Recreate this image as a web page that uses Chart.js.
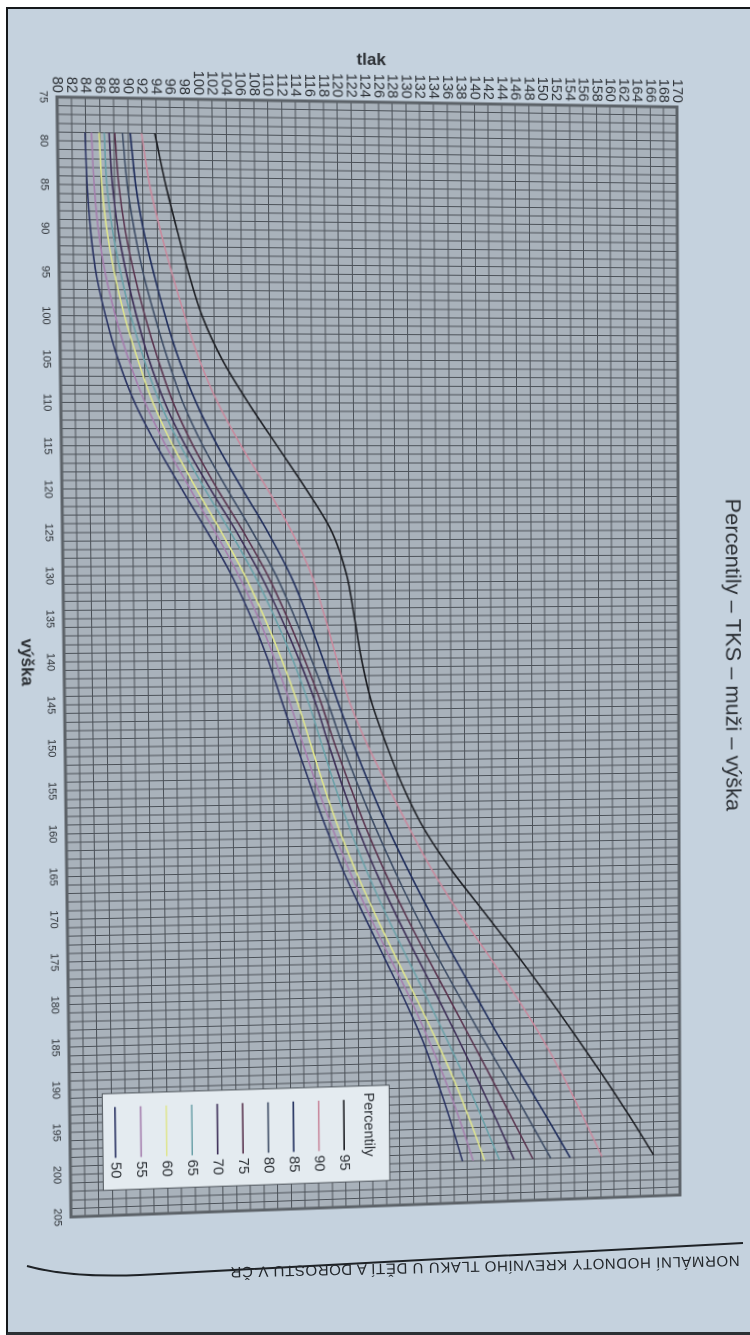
<!DOCTYPE html>
<html>
<head>
<meta charset="utf-8">
<script src="https://cdn.jsdelivr.net/npm/chart.js"></script>
<style>
  body { margin: 0; width: 750px; height: 1335px; overflow: hidden; position: relative; background: #fff;
         font-family: "Liberation Sans", Arial, sans-serif; }
  #page { position: absolute; left: 6px; top: 7px; width: 744px; height: 1323px; background: #c5d2de;
          border-left: 2px solid #15181b; border-top: 2px solid #15181b; border-bottom: 3px solid #2c3034; }
  #sheet { position: absolute; left: 0; top: 0; width: 1340px; height: 770px; transform-origin: 0 0; }
  #rule { position: absolute; left: 0; top: 0; }
  #footer { position: absolute; left: 0; top: 0; white-space: nowrap; font-size: 15px; letter-spacing: 0.6px;
            color: #23272b; transform-origin: 50% 50%; }
</style>
</head>
<body>
<div id="page"></div>
<div id="sheet"><canvas id="chart" width="1340" height="770"></canvas></div>
<svg id="rule" width="750" height="1335"><path d="M 27 1266 Q 70 1278 140 1275 L 743 1243" fill="none" stroke="#1e2226" stroke-width="2"/></svg>
<div id="footer">NORMÁLNÍ HODNOTY KREVNÍHO TLAKU U DĚTÍ A DOROSTU V ČR</div>
<script>
// výška (cm)
var heights = [79, 85, 90, 95, 100, 105, 110, 115, 120, 125, 130, 135, 140, 145, 150, 155, 160, 165, 170, 175, 180, 185, 190, 195, 200];

// tlak for each percentile
var p95 = [93.8, 95.3, 96.8, 98.4, 100.3, 103.1, 106.8, 110.9, 115.0, 118.7, 120.8, 121.9, 122.9, 124.3, 126.4, 128.8, 131.8, 135.8, 140.5, 145.2, 149.7, 154.0, 158.2, 162.2, 166.0];
var p90 = [91.9, 93.0, 94.4, 96.0, 97.8, 99.8, 102.4, 105.7, 109.4, 112.9, 115.7, 117.6, 119.3, 121.1, 123.6, 126.6, 129.7, 133.0, 136.8, 141.0, 145.1, 148.9, 152.3, 155.3, 158.2];
var p85 = [90.3, 91.0, 92.0, 93.4, 95.0, 96.9, 99.3, 102.3, 105.8, 109.4, 112.6, 115.1, 117.3, 119.4, 121.6, 124.0, 126.6, 129.5, 132.6, 135.9, 139.3, 142.7, 146.3, 149.9, 153.4];
var p80 = [89.2, 89.8, 90.7, 91.9, 93.5, 95.3, 97.4, 100.2, 103.6, 107.2, 110.5, 113.2, 115.6, 117.9, 120.0, 122.3, 124.8, 127.5, 130.4, 133.5, 136.8, 140.2, 143.7, 147.1, 150.5];
var p75 = [88.1, 88.6, 89.4, 90.6, 92.1, 93.9, 96.0, 98.8, 102.2, 105.9, 109.3, 112.1, 114.6, 116.9, 118.9, 121.1, 123.4, 126.0, 128.9, 132.0, 135.2, 138.4, 141.6, 144.7, 147.8];
var p70 = [87.3, 87.7, 88.4, 89.5, 90.9, 92.6, 94.8, 97.7, 101.2, 104.9, 108.3, 111.2, 113.8, 116.1, 118.0, 120.0, 122.2, 124.7, 127.5, 130.5, 133.6, 136.6, 139.5, 142.3, 145.0];
var p65 = [86.6, 86.9, 87.6, 88.7, 90.1, 91.9, 94.1, 97.0, 100.4, 104.0, 107.4, 110.3, 112.9, 115.1, 117.0, 118.9, 121.0, 123.4, 126.1, 129.0, 132.0, 134.9, 137.7, 140.3, 142.8];
var p60 = [85.9, 86.2, 86.8, 87.8, 89.2, 91.0, 93.1, 95.9, 99.2, 102.7, 106.0, 108.8, 111.3, 113.5, 115.4, 117.3, 119.4, 121.8, 124.5, 127.4, 130.4, 133.3, 136.0, 138.4, 140.6];
var p55 = [84.8, 85.1, 85.6, 86.5, 87.9, 89.7, 92.0, 94.9, 98.3, 101.8, 105.1, 107.9, 110.3, 112.4, 114.3, 116.3, 118.5, 120.9, 123.6, 126.5, 129.5, 132.2, 134.7, 136.9, 138.9];
var p50 = [83.9, 84.1, 84.5, 85.2, 86.5, 88.2, 90.5, 93.6, 97.1, 100.7, 104.1, 106.9, 109.3, 111.3, 113.3, 115.4, 117.6, 120.0, 122.8, 125.7, 128.6, 131.3, 133.5, 135.5, 137.3];

var labels = ["95", "90", "85", "80", "75", "70", "65", "60", "55", "50"];
var series = [p95, p90, p85, p80, p75, p70, p65, p60, p55, p50];
var lineColors = ["#1d1f24", "#c98a9e", "#1f2d5c", "#3e4d66", "#5a3550", "#3d2f58", "#6aa0a8", "#dfe58e", "#a57fae", "#2b3463"];

var FONT = '"Liberation Sans", Arial, sans-serif';
var TEXT = "#2c3035";

// gray plot background, frame and the boxed legend inside the plot
var plotDecor = {
  id: "plotDecor",
  beforeDraw: function (chart) {
    var a = chart.chartArea, ctx = chart.ctx;
    ctx.save();
    ctx.fillStyle = "#a9b2bb";
    ctx.fillRect(a.left, a.top, a.right - a.left, a.bottom - a.top);
    ctx.restore();
  },
  afterDatasetsDraw: function (chart) {
    var ctx = chart.ctx, x = chart.scales.x, y = chart.scales.y, a = chart.chartArea;
    ctx.save();
    ctx.strokeStyle = "#5c6268";
    ctx.lineWidth = 3;
    ctx.strokeRect(a.left, a.top, a.right - a.left, a.bottom - a.top);

    var bl = x.getPixelForValue(190.6), br = x.getPixelForValue(202.0);
    var bt = y.getPixelForValue(126.5), bb = y.getPixelForValue(84.7);
    ctx.fillStyle = "#e4ebf0";
    ctx.fillRect(bl, bt, br - bl, bb - bt);
    ctx.lineWidth = 1;
    ctx.strokeStyle = "#4d5359";
    ctx.strokeRect(bl, bt, br - bl, bb - bt);

    ctx.font = "15px " + FONT;
    ctx.fillStyle = TEXT;
    ctx.textBaseline = "middle";
    ctx.textAlign = "left";
    ctx.fillText("Percentily", x.getPixelForValue(191.4), y.getPixelForValue(123.4));
    chart.data.datasets.forEach(function (ds, i) {
      var cy = y.getPixelForValue(119.8 - i * 3.7);
      ctx.strokeStyle = ds.borderColor;
      ctx.lineWidth = 1.6;
      ctx.beginPath();
      ctx.moveTo(x.getPixelForValue(192.2), cy);
      ctx.lineTo(x.getPixelForValue(198.2), cy);
      ctx.stroke();
      ctx.fillText(ds.label, x.getPixelForValue(198.7), cy);
    });
    ctx.restore();
  }
};

var chart = new Chart("chart", {
  type: "line",
  data: {
    datasets: series.map(function (s, i) {
      return {
        label: labels[i],
        data: heights.map(function (h, j) { return {x: h, y: s[j]}; }),
        borderColor: lineColors[i],
        borderWidth: 1.6,
        pointRadius: 0,
        cubicInterpolationMode: "monotone",
        fill: false
      };
    })
  },
  options: {
    responsive: false,
    animation: false,
    devicePixelRatio: 2,
    layout: {padding: {left: 0, right: 120, top: 0, bottom: 28}},
    plugins: {
      legend: {display: false},
      tooltip: {enabled: false},
      title: {
        display: true,
        fullSize: false,
        text: "Percentily – TKS – muži – výška",
        color: TEXT,
        font: {family: FONT, size: 22.5, weight: "normal"},
        padding: {top: 6, bottom: 42}
      }
    },
    scales: {
      x: {
        type: "linear",
        min: 75,
        max: 205,
        afterFit: function (s) { s.height = 47; },
        ticks: {
          stepSize: 1,
          autoSkip: false,
          maxRotation: 0,
          padding: 7,
          color: TEXT,
          font: {family: FONT, size: 11},
          callback: function (v) { return v % 5 === 0 ? String(v) : ""; }
        },
        grid: {color: "#4b5158", lineWidth: 1, drawTicks: false},
        border: {display: false},
        title: {display: true, text: "výška", color: TEXT, font: {family: FONT, size: 17, weight: "bold"}, padding: 0}
      },
      y: {
        type: "linear",
        min: 80,
        max: 170,
        afterFit: function (s) { s.width = 100; },
        ticks: {
          stepSize: 2,
          autoSkip: false,
          padding: 4,
          color: TEXT,
          font: {family: FONT, size: 14.5}
        },
        grid: {color: "#4b5158", lineWidth: 1, drawTicks: false},
        border: {display: false},
        title: {display: true, text: "tlak", color: TEXT, font: {family: FONT, size: 17, weight: "bold"}, padding: {top: 48, bottom: 0}}
      }
    }
  },
  plugins: [plotDecor]
});

// the photo shows the page turned a quarter and in slight perspective:
// map the plot corners onto where they sit in the picture
function homography(src, dst) {
  var A = [], b = [], i, c, r, k;
  for (i = 0; i < 4; i++) {
    var sx = src[i][0], sy = src[i][1], dx = dst[i][0], dy = dst[i][1];
    A.push([sx, sy, 1, 0, 0, 0, -sx * dx, -sy * dx]); b.push(dx);
    A.push([0, 0, 0, sx, sy, 1, -sx * dy, -sy * dy]); b.push(dy);
  }
  for (c = 0; c < 8; c++) {
    var p = c;
    for (r = c + 1; r < 8; r++) if (Math.abs(A[r][c]) > Math.abs(A[p][c])) p = r;
    var t = A[c]; A[c] = A[p]; A[p] = t;
    t = b[c]; b[c] = b[p]; b[p] = t;
    for (r = 0; r < 8; r++) {
      if (r === c) continue;
      var f = A[r][c] / A[c][c];
      for (k = c; k < 8; k++) A[r][k] -= f * A[c][k];
      b[r] -= f * b[c];
    }
  }
  return b.map(function (v, i) { return v / A[i][i]; });
}

var ca = chart.chartArea;
var h = homography(
  [[ca.left, ca.bottom], [ca.left, ca.top], [ca.right, ca.bottom], [ca.right, ca.top]],
  [[57, 97], [677, 107], [71, 1217], [680, 1195]]
);
document.getElementById("sheet").style.transform =
  "matrix3d(" + [h[0], h[3], 0, h[6], h[1], h[4], 0, h[7], 0, 0, 1, 0, h[2], h[5], 0, 1].join(",") + ")";

var footer = document.getElementById("footer");
footer.style.transform = "translate(" + (485 - footer.offsetWidth / 2) + "px," + (1267 - footer.offsetHeight / 2) + "px) rotate(178.7deg)";
</script>
</body>
</html>
